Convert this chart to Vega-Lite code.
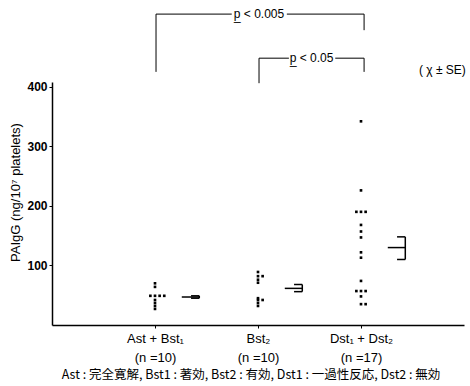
{
  "$schema": "https://vega.github.io/schema/vega-lite/v6.json",
  "width": 412,
  "height": 243,
  "autosize": "none",
  "padding": {"left": 52, "top": 82, "right": 6, "bottom": 61},
  "background": "white",
  "config": {
    "view": {"stroke": null},
    "axis": {"grid": false, "domainColor": "black", "tickColor": "black", "labelColor": "black", "titleColor": "black"}
  },
  "title": {
    "text": "Ast : 完全寛解, Bst1 : 著効, Bst2 : 有効, Dst1 : 一過性反応, Dst2 : 無効",
    "orient": "bottom",
    "anchor": "middle",
    "font": "Noto Sans CJK JP",
    "fontSize": 12.5,
    "fontWeight": "normal",
    "color": "black",
    "offset": 5,
    "dx": -7
  },
  "datasets": {
    "pts": [
      {"group": 1, "v": 70}, {"group": 1, "v": 64}, {"group": 1, "v": 49}, {"group": 1, "v": 49},
      {"group": 1, "v": 49}, {"group": 1, "v": 49}, {"group": 1, "v": 42}, {"group": 1, "v": 37},
      {"group": 1, "v": 32}, {"group": 1, "v": 27},
      {"group": 2, "v": 89}, {"group": 2, "v": 82}, {"group": 2, "v": 82}, {"group": 2, "v": 76},
      {"group": 2, "v": 71}, {"group": 2, "v": 45}, {"group": 2, "v": 42}, {"group": 2, "v": 42},
      {"group": 2, "v": 37}, {"group": 2, "v": 32},
      {"group": 3, "v": 342}, {"group": 3, "v": 226}, {"group": 3, "v": 190}, {"group": 3, "v": 190},
      {"group": 3, "v": 190}, {"group": 3, "v": 168}, {"group": 3, "v": 157}, {"group": 3, "v": 147},
      {"group": 3, "v": 122}, {"group": 3, "v": 113}, {"group": 3, "v": 74}, {"group": 3, "v": 57},
      {"group": 3, "v": 57}, {"group": 3, "v": 57}, {"group": 3, "v": 48}, {"group": 3, "v": 35},
      {"group": 3, "v": 35}
    ],
    "stats": [
      {"group": 1, "mean": 47, "lo": 45, "hi": 49},
      {"group": 2, "mean": 61.5, "lo": 56, "hi": 68},
      {"group": 3, "mean": 130, "lo": 110, "hi": 148}
    ],
    "brk": [
      {"x": 1.01, "x2": 1.745, "y": 522, "y2": 522},
      {"x": 2.28, "x2": 3.03, "y": 522, "y2": 522},
      {"x": 1.01, "x2": 1.01, "y": 522, "y2": 425},
      {"x": 3.03, "x2": 3.03, "y": 522, "y2": 495},
      {"x": 2.01, "x2": 2.3, "y": 448, "y2": 448},
      {"x": 2.75, "x2": 3.03, "y": 448, "y2": 448},
      {"x": 2.01, "x2": 2.01, "y": 448, "y2": 406},
      {"x": 3.03, "x2": 3.03, "y": 448, "y2": 425}
    ],
    "notes": [
      {"x": 2.01, "y": 522, "t": "p̲ < 0.005"},
      {"x": 2.52, "y": 448, "t": "p̲ < 0.05"},
      {"x": 3.79, "y": 428, "t": "( χ ± SE)"}
    ]
  },
  "layer": [
    {
      "data": {"name": "pts"},
      "transform": [
        {"window": [{"op": "row_number", "as": "rn"}, {"op": "count", "as": "n"}], "groupby": ["group", "v"], "frame": [null, null]},
        {"calculate": "datum.group + (datum.rn - 1 - floor((datum.n - 1) / 2)) * 0.045", "as": "xp"}
      ],
      "mark": {"type": "square", "size": 7, "filled": true, "color": "black", "opacity": 1},
      "encoding": {
        "x": {
          "field": "xp", "type": "quantitative",
          "scale": {"domain": [0, 4], "nice": false, "zero": false},
          "axis": {
            "values": [1, 2, 3],
            "title": null,
            "labelExpr": "datum.value == 1 ? ['Ast + Bst₁', '(n =10)'] : datum.value == 2 ? ['Bst₂', '(n =10)'] : ['Dst₁ + Dst₂', '(n =17)']",
            "tickSize": 3,
            "domainWidth": 1.5,
            "labelFont": "Liberation Sans",
            "labelFontSize": 13,
            "labelLineHeight": 19,
            "labelPadding": 4,
            "labelFlush": false,
            "labelOverlap": false
          }
        },
        "y": {
          "field": "v", "type": "quantitative",
          "scale": {"domain": [0, 408], "nice": false},
          "axis": {
            "values": [100, 200, 300, 400],
            "title": "PAIgG  (ng/10⁷  platelets)",
            "titleFont": "Liberation Sans",
            "titleFontSize": 13,
            "titleFontWeight": "normal",
            "titleY": 110,
            "titlePadding": 4,
            "labelFont": "Liberation Sans",
            "labelFontWeight": "bold",
            "labelFontSize": 12,
            "tickSize": 3,
            "labelPadding": 2,
            "domainWidth": 1.5
          }
        }
      }
    },
    {
      "data": {"name": "stats"},
      "transform": [
        {"calculate": "datum.group + 0.26", "as": "xa"},
        {"calculate": "datum.group + 0.35", "as": "xb"},
        {"calculate": "datum.group + 0.43", "as": "xc"}
      ],
      "layer": [
        {
          "mark": {"type": "rule", "strokeWidth": 1.5, "color": "black"},
          "encoding": {
            "x": {"field": "xa", "type": "quantitative"},
            "x2": {"field": "xc"},
            "y": {"field": "mean", "type": "quantitative"}
          }
        },
        {
          "mark": {"type": "rule", "strokeWidth": 1.5, "color": "black"},
          "encoding": {
            "x": {"field": "xb", "type": "quantitative"},
            "x2": {"field": "xc"},
            "y": {"field": "hi", "type": "quantitative"}
          }
        },
        {
          "mark": {"type": "rule", "strokeWidth": 1.5, "color": "black"},
          "encoding": {
            "x": {"field": "xb", "type": "quantitative"},
            "x2": {"field": "xc"},
            "y": {"field": "lo", "type": "quantitative"}
          }
        },
        {
          "mark": {"type": "rule", "strokeWidth": 1.5, "color": "black"},
          "encoding": {
            "x": {"field": "xc", "type": "quantitative"},
            "y": {"field": "lo", "type": "quantitative"},
            "y2": {"field": "hi"}
          }
        }
      ]
    },
    {
      "data": {"name": "brk"},
      "mark": {"type": "rule", "strokeWidth": 1, "color": "black"},
      "encoding": {
        "x": {"field": "x", "type": "quantitative"},
        "x2": {"field": "x2"},
        "y": {"field": "y", "type": "quantitative"},
        "y2": {"field": "y2"}
      }
    },
    {
      "data": {"name": "notes"},
      "mark": {"type": "text", "font": "Liberation Sans", "fontSize": 12, "color": "black", "align": "center", "baseline": "middle"},
      "encoding": {
        "x": {"field": "x", "type": "quantitative"},
        "y": {"field": "y", "type": "quantitative"},
        "text": {"field": "t"}
      }
    }
  ]
}
